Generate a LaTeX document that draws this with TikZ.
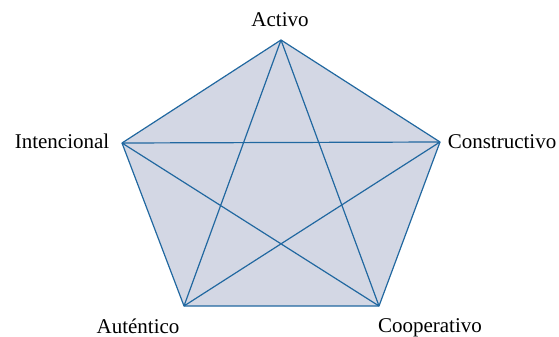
\documentclass[tikz,border=0pt]{standalone}
\usepackage{fontspec}
\setmainfont{Liberation Serif}
\definecolor{pfill}{RGB}{211,215,228}
\definecolor{pline}{RGB}{33,104,160}
\begin{document}
\begin{tikzpicture}[x=1pt,y=-1pt,
  lbl/.style={font=\fontsize{21}{24}\selectfont, inner sep=0pt, anchor=base},
  edge/.style={draw=pline, line width=1.2pt, line join=round}]
\useasboundingbox (0,0) rectangle (559,337);
\coordinate (A) at (281,40);
\coordinate (C) at (440,142);
\coordinate (Co) at (379,306);
\coordinate (Au) at (184,306);
\coordinate (I) at (122,143);
\fill[pfill] (A) -- (C) -- (Co) -- (Au) -- (I) -- cycle;
\draw[edge] (A) -- (C) -- (Co) -- (Au) -- (I) -- cycle;
\draw[edge] (A) -- (Co) (A) -- (Au) (I) -- (C) (I) -- (Co) (C) -- (Au);
\node[lbl] (tA) at (280,27) {Activo};
\node[lbl] (tI) at (62,148) {Intencional};
\node[lbl] (tC) at (502,148) {Constructivo};
\node[lbl] (tAu) at (138,333) {Auténtico};
\node[lbl] (tCo) at (430,332) {Cooperativo};
\end{tikzpicture}
\end{document}
